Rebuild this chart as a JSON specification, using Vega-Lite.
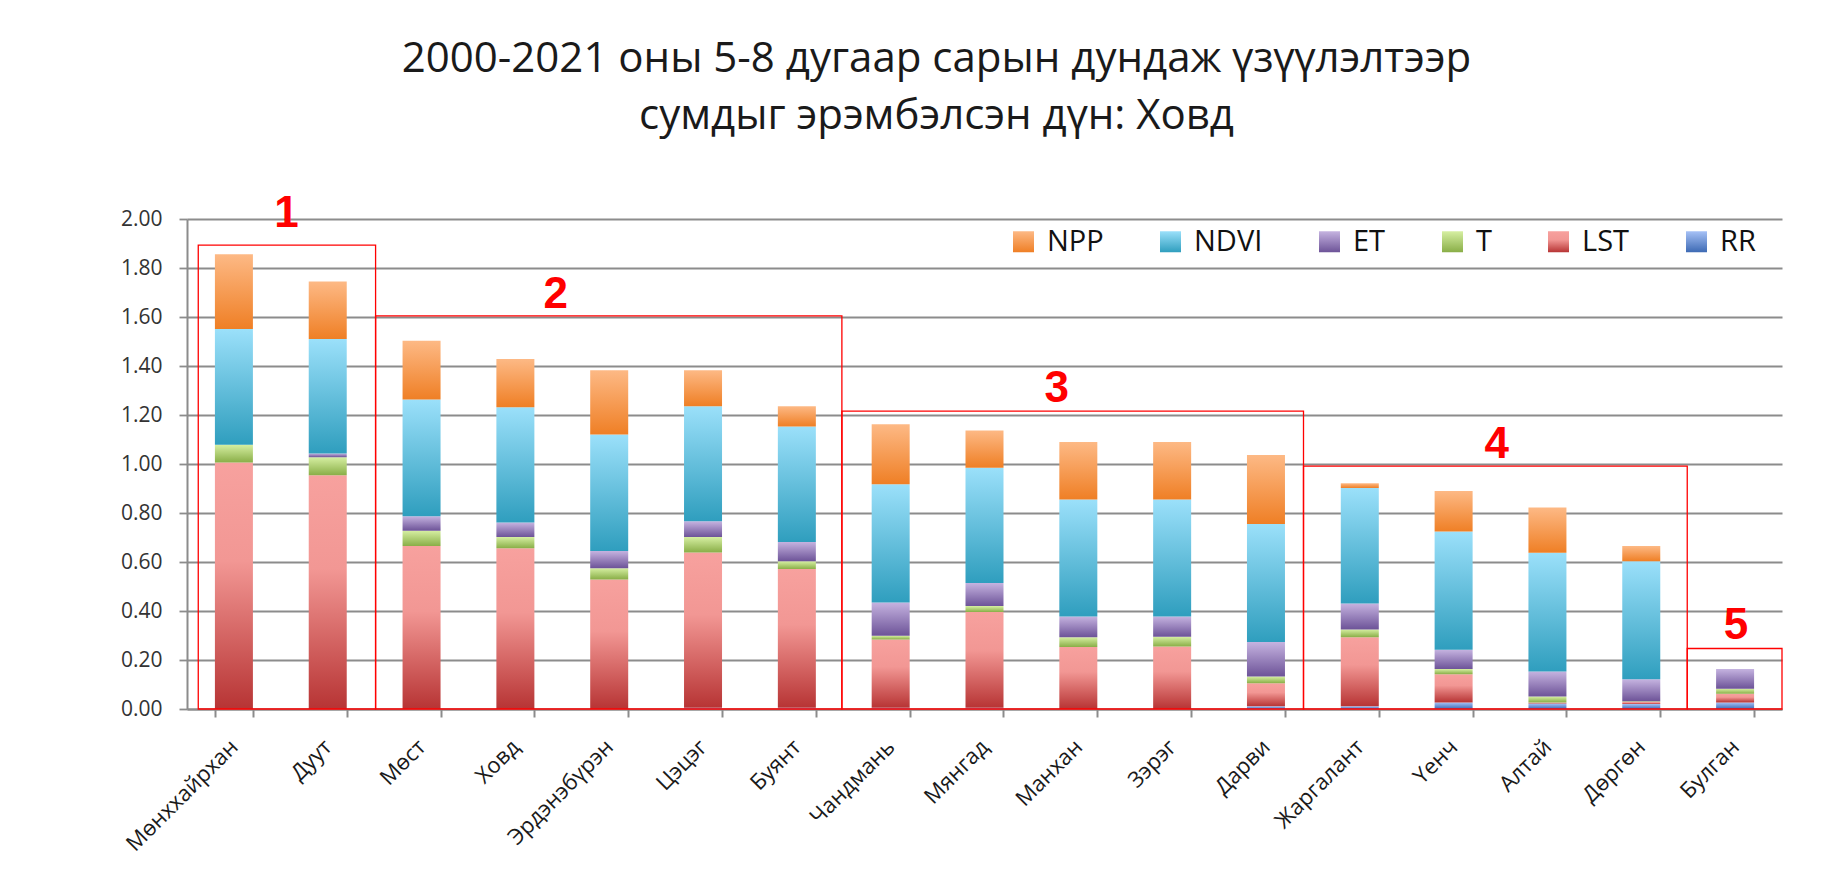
{
  "$schema": "https://vega.github.io/schema/vega-lite/v6.json",
  "width": 1595,
  "height": 490,
  "autosize": {"type": "none"},
  "padding": {"left": 187, "top": 219, "right": 59, "bottom": 187},
  "background": "white",
  "title": {
    "text": ["2000-2021 оны 5-8 дугаар сарын дундаж үзүүлэлтээр", "сумдыг эрэмбэлсэн дүн: Ховд"],
    "font": "Open Sans",
    "fontSize": 42,
    "fontWeight": "normal",
    "color": "#1a1a1a",
    "lineHeight": 57,
    "anchor": "middle",
    "frame": "group",
    "dx": -48,
    "offset": 54
  },
  "config": {"view": {"stroke": null}},
  "datasets": {
    "bars": [
      {"soum": "Мөнххайрхан", "series": "RR", "value": 0},
      {"soum": "Мөнххайрхан", "series": "LST", "value": 1.006},
      {"soum": "Мөнххайрхан", "series": "T", "value": 0.073},
      {"soum": "Мөнххайрхан", "series": "ET", "value": 0},
      {"soum": "Мөнххайрхан", "series": "NDVI", "value": 0.472},
      {"soum": "Мөнххайрхан", "series": "NPP", "value": 0.305},
      {"soum": "Дуут", "series": "RR", "value": 0},
      {"soum": "Дуут", "series": "LST", "value": 0.954},
      {"soum": "Дуут", "series": "T", "value": 0.074},
      {"soum": "Дуут", "series": "ET", "value": 0.015},
      {"soum": "Дуут", "series": "NDVI", "value": 0.467},
      {"soum": "Дуут", "series": "NPP", "value": 0.235},
      {"soum": "Мөст", "series": "RR", "value": 0},
      {"soum": "Мөст", "series": "LST", "value": 0.665},
      {"soum": "Мөст", "series": "T", "value": 0.063},
      {"soum": "Мөст", "series": "ET", "value": 0.059},
      {"soum": "Мөст", "series": "NDVI", "value": 0.476},
      {"soum": "Мөст", "series": "NPP", "value": 0.240},
      {"soum": "Ховд", "series": "RR", "value": 0},
      {"soum": "Ховд", "series": "LST", "value": 0.656},
      {"soum": "Ховд", "series": "T", "value": 0.046},
      {"soum": "Ховд", "series": "ET", "value": 0.059},
      {"soum": "Ховд", "series": "NDVI", "value": 0.471},
      {"soum": "Ховд", "series": "NPP", "value": 0.197},
      {"soum": "Эрдэнэбүрэн", "series": "RR", "value": 0},
      {"soum": "Эрдэнэбүрэн", "series": "LST", "value": 0.529},
      {"soum": "Эрдэнэбүрэн", "series": "T", "value": 0.046},
      {"soum": "Эрдэнэбүрэн", "series": "ET", "value": 0.070},
      {"soum": "Эрдэнэбүрэн", "series": "NDVI", "value": 0.475},
      {"soum": "Эрдэнэбүрэн", "series": "NPP", "value": 0.263},
      {"soum": "Цэцэг", "series": "RR", "value": 0.005},
      {"soum": "Цэцэг", "series": "LST", "value": 0.634},
      {"soum": "Цэцэг", "series": "T", "value": 0.063},
      {"soum": "Цэцэг", "series": "ET", "value": 0.064},
      {"soum": "Цэцэг", "series": "NDVI", "value": 0.470},
      {"soum": "Цэцэг", "series": "NPP", "value": 0.147},
      {"soum": "Буянт", "series": "RR", "value": 0.005},
      {"soum": "Буянт", "series": "LST", "value": 0.566},
      {"soum": "Буянт", "series": "T", "value": 0.032},
      {"soum": "Буянт", "series": "ET", "value": 0.079},
      {"soum": "Буянт", "series": "NDVI", "value": 0.471},
      {"soum": "Буянт", "series": "NPP", "value": 0.083},
      {"soum": "Чандмань", "series": "RR", "value": 0.005},
      {"soum": "Чандмань", "series": "LST", "value": 0.279},
      {"soum": "Чандмань", "series": "T", "value": 0.015},
      {"soum": "Чандмань", "series": "ET", "value": 0.136},
      {"soum": "Чандмань", "series": "NDVI", "value": 0.482},
      {"soum": "Чандмань", "series": "NPP", "value": 0.245},
      {"soum": "Мянгад", "series": "RR", "value": 0.005},
      {"soum": "Мянгад", "series": "LST", "value": 0.391},
      {"soum": "Мянгад", "series": "T", "value": 0.024},
      {"soum": "Мянгад", "series": "ET", "value": 0.094},
      {"soum": "Мянгад", "series": "NDVI", "value": 0.471},
      {"soum": "Мянгад", "series": "NPP", "value": 0.152},
      {"soum": "Манхан", "series": "RR", "value": 0},
      {"soum": "Манхан", "series": "LST", "value": 0.253},
      {"soum": "Манхан", "series": "T", "value": 0.040},
      {"soum": "Манхан", "series": "ET", "value": 0.085},
      {"soum": "Манхан", "series": "NDVI", "value": 0.477},
      {"soum": "Манхан", "series": "NPP", "value": 0.235},
      {"soum": "Зэрэг", "series": "RR", "value": 0},
      {"soum": "Зэрэг", "series": "LST", "value": 0.255},
      {"soum": "Зэрэг", "series": "T", "value": 0.040},
      {"soum": "Зэрэг", "series": "ET", "value": 0.083},
      {"soum": "Зэрэг", "series": "NDVI", "value": 0.477},
      {"soum": "Зэрэг", "series": "NPP", "value": 0.235},
      {"soum": "Дарви", "series": "RR", "value": 0.011},
      {"soum": "Дарви", "series": "LST", "value": 0.094},
      {"soum": "Дарви", "series": "T", "value": 0.028},
      {"soum": "Дарви", "series": "ET", "value": 0.140},
      {"soum": "Дарви", "series": "NDVI", "value": 0.482},
      {"soum": "Дарви", "series": "NPP", "value": 0.282},
      {"soum": "Жаргалант", "series": "RR", "value": 0.011},
      {"soum": "Жаргалант", "series": "LST", "value": 0.282},
      {"soum": "Жаргалант", "series": "T", "value": 0.032},
      {"soum": "Жаргалант", "series": "ET", "value": 0.106},
      {"soum": "Жаргалант", "series": "NDVI", "value": 0.471},
      {"soum": "Жаргалант", "series": "NPP", "value": 0.019},
      {"soum": "Үенч", "series": "RR", "value": 0.027},
      {"soum": "Үенч", "series": "LST", "value": 0.115},
      {"soum": "Үенч", "series": "T", "value": 0.021},
      {"soum": "Үенч", "series": "ET", "value": 0.079},
      {"soum": "Үенч", "series": "NDVI", "value": 0.482},
      {"soum": "Үенч", "series": "NPP", "value": 0.166},
      {"soum": "Алтай", "series": "RR", "value": 0.022},
      {"soum": "Алтай", "series": "LST", "value": 0.005},
      {"soum": "Алтай", "series": "T", "value": 0.024},
      {"soum": "Алтай", "series": "ET", "value": 0.102},
      {"soum": "Алтай", "series": "NDVI", "value": 0.485},
      {"soum": "Алтай", "series": "NPP", "value": 0.184},
      {"soum": "Дөргөн", "series": "RR", "value": 0.020},
      {"soum": "Дөргөн", "series": "LST", "value": 0.010},
      {"soum": "Дөргөн", "series": "T", "value": 0.002},
      {"soum": "Дөргөн", "series": "ET", "value": 0.089},
      {"soum": "Дөргөн", "series": "NDVI", "value": 0.482},
      {"soum": "Дөргөн", "series": "NPP", "value": 0.062},
      {"soum": "Булган", "series": "RR", "value": 0.027},
      {"soum": "Булган", "series": "LST", "value": 0.035},
      {"soum": "Булган", "series": "T", "value": 0.021},
      {"soum": "Булган", "series": "ET", "value": 0.080},
      {"soum": "Булган", "series": "NDVI", "value": 0},
      {"soum": "Булган", "series": "NPP", "value": 0}
    ],
    "boxes": [
      {"group": "1", "x0": 0.12, "x1": 2.01, "top": 1.893, "lx": 1.06, "ly": 2.02},
      {"group": "2", "x0": 2.01, "x1": 6.98, "top": 1.605, "lx": 3.93, "ly": 1.69},
      {"group": "3", "x0": 6.98, "x1": 11.9, "top": 1.216, "lx": 9.27, "ly": 1.305},
      {"group": "4", "x0": 11.9, "x1": 15.99, "top": 0.991, "lx": 13.96, "ly": 1.077},
      {"group": "5", "x0": 15.99, "x1": 17.0, "top": 0.247, "lx": 16.51, "ly": 0.34}
    ]
  },
  "layer": [
    {
      "data": {"name": "bars"},
      "transform": [
        {"calculate": "indexof(['RR','LST','T','ET','NDVI','NPP'], datum.series)", "as": "stackOrder"}
      ],
      "mark": {"type": "bar"},
      "encoding": {
        "x": {
          "field": "soum",
          "type": "nominal",
          "sort": null,
          "scale": {"paddingInner": 0.595, "paddingOuter": 0.2975},
          "axis": {
            "title": null,
            "labelAngle": -45,
            "labelAlign": "right",
            "labelBaseline": "middle",
            "labelFont": "Open Sans",
            "labelFontSize": 22,
            "labelColor": "#1a1a1a",
            "labelPadding": 26,
            "labelOverlap": false,
            "tickBand": "extent",
            "ticks": true,
            "tickSize": 8,
            "tickColor": "#8c8c8c",
            "tickWidth": 2,
            "domainColor": "#8c8c8c",
            "domainWidth": 2,
            "grid": false
          }
        },
        "y": {
          "field": "value",
          "type": "quantitative",
          "stack": "zero",
          "scale": {"domain": [0, 2], "nice": false},
          "axis": {
            "title": null,
            "values": [0, 0.2, 0.4, 0.6, 0.8, 1.0, 1.2, 1.4, 1.6, 1.8, 2.0],
            "format": ".2f",
            "grid": true,
            "gridColor": "#8c8c8c",
            "gridWidth": 1.8,
            "domainColor": "#8c8c8c",
            "domainWidth": 2,
            "tickColor": "#8c8c8c",
            "tickWidth": 1.8,
            "tickSize": 8,
            "labelFont": "Open Sans",
            "labelFontSize": 21,
            "labelColor": "#333333",
            "labelPadding": 17
          }
        },
        "color": {
          "field": "series",
          "type": "nominal",
          "scale": {
            "domain": ["NPP", "NDVI", "ET", "T", "LST", "RR"],
            "range": [
              {"expr": "{gradient: 'linear', x1: 0, y1: 0, x2: 0, y2: 1, stops: [{offset: 0, color: '#FDB985'}, {offset: 1, color: '#EF7F25'}]}"},
              {"expr": "{gradient: 'linear', x1: 0, y1: 0, x2: 0, y2: 1, stops: [{offset: 0, color: '#9BE0FA'}, {offset: 1, color: '#2F9EBE'}]}"},
              {"expr": "{gradient: 'linear', x1: 0, y1: 0, x2: 0, y2: 1, stops: [{offset: 0, color: '#C5B3E0'}, {offset: 1, color: '#6D5398'}]}"},
              {"expr": "{gradient: 'linear', x1: 0, y1: 0, x2: 0, y2: 1, stops: [{offset: 0, color: '#D6EFA2'}, {offset: 1, color: '#89AE47'}]}"},
              {"expr": "{gradient: 'linear', x1: 0, y1: 0, x2: 0, y2: 1, stops: [{offset: 0, color: '#F7A19E'}, {offset: 0.4, color: '#F29794'}, {offset: 1, color: '#B73434'}]}"},
              {"expr": "{gradient: 'linear', x1: 0, y1: 0, x2: 0, y2: 1, stops: [{offset: 0, color: '#A6C1F6'}, {offset: 1, color: '#3D6AB4'}]}"}
            ]
          },
          "legend": {
            "orient": "none",
            "legendX": 822,
            "legendY": 8,
            "direction": "horizontal",
            "title": null,
            "symbolType": "square",
            "symbolSize": 441,
            "symbolStrokeWidth": 0,
            "labelFont": "Open Sans",
            "labelFontSize": 29,
            "labelColor": "#111111",
            "labelOffset": 9,
            "columnPadding": 52,
            "padding": 0
          }
        },
        "order": {"field": "stackOrder", "type": "quantitative", "sort": "ascending"}
      }
    },
    {
      "data": {"name": "boxes"},
      "mark": {"type": "rect", "fill": null, "stroke": "#ff0000", "strokeWidth": 1.3},
      "encoding": {
        "x": {"field": "x0", "type": "quantitative", "scale": {"domain": [0, 17], "nice": false, "zero": false}, "axis": null},
        "x2": {"field": "x1"},
        "y": {"field": "top", "type": "quantitative"},
        "y2": {"datum": 0}
      }
    },
    {
      "data": {"name": "boxes"},
      "mark": {"type": "text", "color": "#ff0000", "fontSize": 44, "fontWeight": "bold", "font": "Liberation Sans", "baseline": "middle", "align": "center"},
      "encoding": {
        "x": {"field": "lx", "type": "quantitative", "scale": {"domain": [0, 17], "nice": false, "zero": false}, "axis": null},
        "y": {"field": "ly", "type": "quantitative"},
        "text": {"field": "group"}
      }
    }
  ],
  "resolve": {"scale": {"x": "independent"}}
}
